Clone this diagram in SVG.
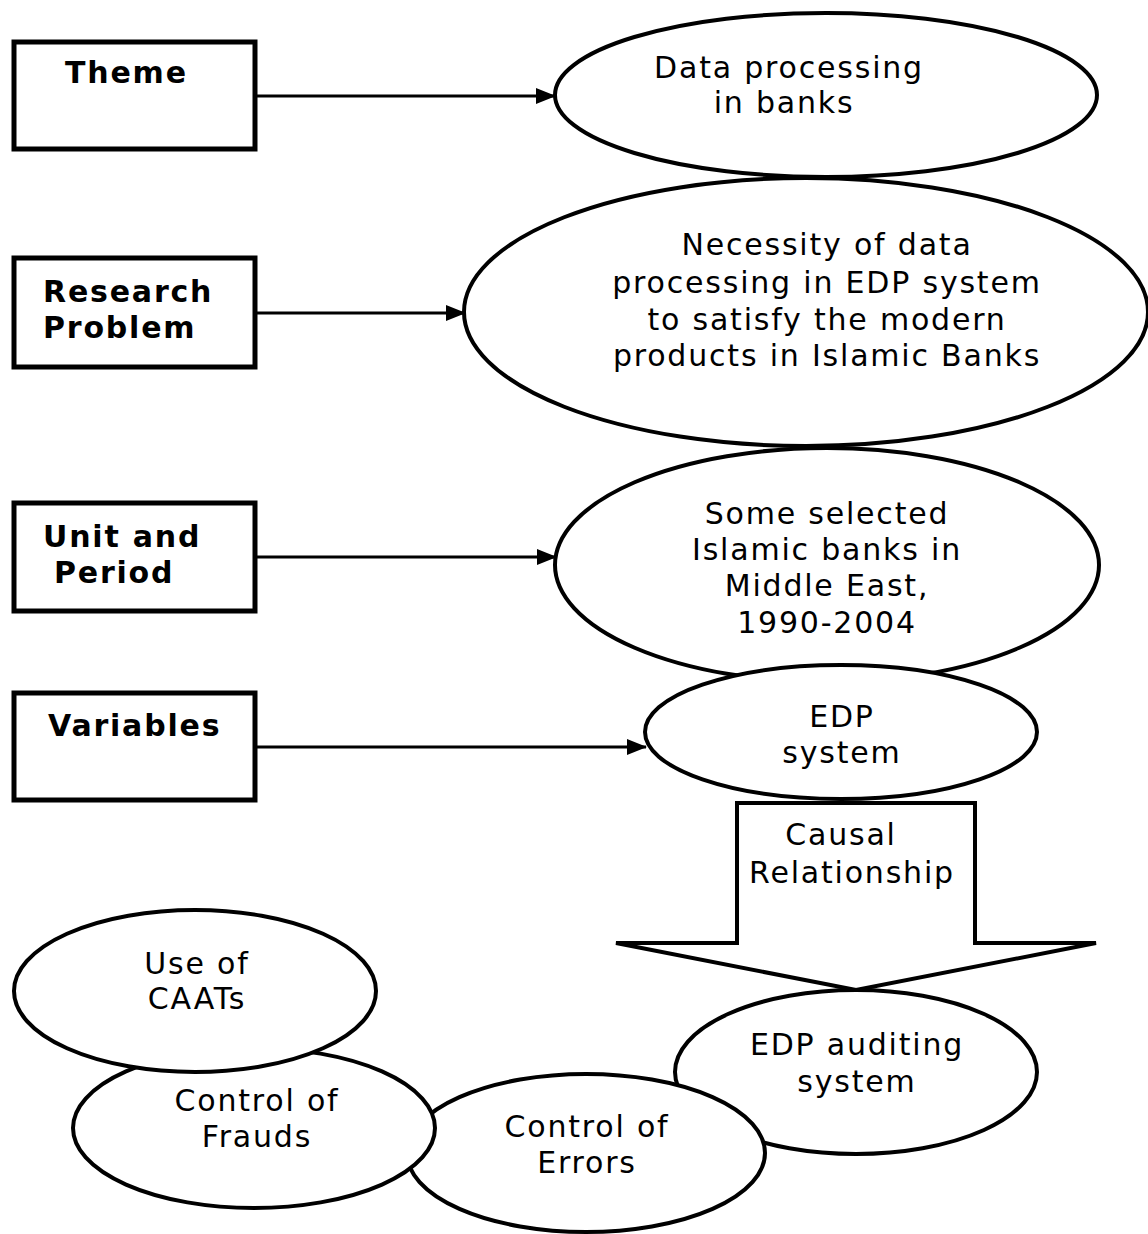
<svg xmlns="http://www.w3.org/2000/svg" width="1148" height="1234" viewBox="0 0 1148 1234">
<style>
.box{fill:#fff;stroke:#000;stroke-width:5}
.ell{fill:#fff;stroke:#000;stroke-width:4}
.lbl{font-family:"DejaVu Sans",Verdana,sans-serif;font-size:30px;font-weight:bold;fill:#000;letter-spacing:1.8px}
.txt{font-family:"DejaVu Sans",Verdana,sans-serif;font-size:30px;fill:#000;text-anchor:middle;letter-spacing:1.8px}
.con{stroke:#000;stroke-width:3;fill:none}
</style>
<defs>
<marker id="ah" markerUnits="userSpaceOnUse" markerWidth="20" markerHeight="16" refX="19" refY="8" orient="auto">
<path d="M0,0 L20,8 L0,16 Z" fill="#000"/>
</marker>
</defs>
<rect width="1148" height="1234" fill="#fff"/>

<g id="theme"><rect class="box" x="14" y="42" width="241" height="107"/><text class="lbl" x="65" y="83">Theme</text></g>
<g id="research-problem"><rect class="box" x="14" y="258" width="241" height="109"/><text class="lbl" x="43" y="302">Research</text><text class="lbl" x="43" y="338">Problem</text></g>
<g id="unit-period"><rect class="box" x="14" y="503" width="241" height="108"/><text class="lbl" x="43" y="547">Unit and</text><text class="lbl" x="54" y="583">Period</text></g>
<g id="variables"><rect class="box" x="14" y="693" width="241" height="107"/><text class="lbl" x="48" y="736">Variables</text></g>

<g id="data-processing"><ellipse class="ell" cx="826" cy="95" rx="271" ry="82"/><text class="txt" x="789" y="78">Data processing</text><text class="txt" x="784" y="113">in banks</text></g>
<g id="necessity"><ellipse class="ell" cx="806" cy="312" rx="342" ry="134"/><text class="txt" x="827" y="255">Necessity of data</text><text class="txt" x="827" y="293">processing in EDP system</text><text class="txt" x="827" y="330">to satisfy the modern</text><text class="txt" x="827" y="366">products in Islamic Banks</text></g>
<g id="islamic-banks"><ellipse class="ell" cx="827" cy="565" rx="272" ry="117"/><text class="txt" x="827" y="524">Some selected</text><text class="txt" x="827" y="560">Islamic banks in</text><text class="txt" x="827" y="596">Middle East,</text><text class="txt" x="827" y="633">1990-2004</text></g>
<g id="edp-system"><ellipse class="ell" cx="841" cy="732" rx="196" ry="67"/><text class="txt" x="842" y="727">EDP</text><text class="txt" x="842" y="763">system</text></g>

<g id="causal-relationship"><path class="ell" d="M737,803 L975,803 L975,943 L1096,943 L856,990 L616,943 L737,943 Z" stroke-linejoin="miter"/><text class="txt" x="841" y="845">Causal</text><text class="txt" x="852" y="883">Relationship</text></g>

<g id="edp-auditing"><ellipse class="ell" cx="856" cy="1072" rx="181" ry="82"/><text class="txt" x="857" y="1055">EDP auditing</text><text class="txt" x="857" y="1092">system</text></g>
<g id="control-errors"><ellipse class="ell" cx="586" cy="1153" rx="179" ry="79"/><text class="txt" x="587" y="1137">Control of</text><text class="txt" x="587" y="1173">Errors</text></g>
<g id="control-frauds"><ellipse class="ell" cx="254" cy="1128" rx="181" ry="80"/><text class="txt" x="257" y="1111">Control of</text><text class="txt" x="257" y="1147">Frauds</text></g>
<g id="use-caats"><ellipse class="ell" cx="195" cy="991" rx="181" ry="81"/><text class="txt" x="197" y="974">Use of</text><text class="txt" x="197" y="1009">CAATs</text></g>

<g id="connectors">
<line class="con" x1="257" y1="96" x2="555" y2="96" marker-end="url(#ah)"/>
<line class="con" x1="257" y1="313" x2="465" y2="313" marker-end="url(#ah)"/>
<line class="con" x1="257" y1="557" x2="556" y2="557" marker-end="url(#ah)"/>
<line class="con" x1="257" y1="747" x2="646" y2="747" marker-end="url(#ah)"/>
</g>
</svg>
